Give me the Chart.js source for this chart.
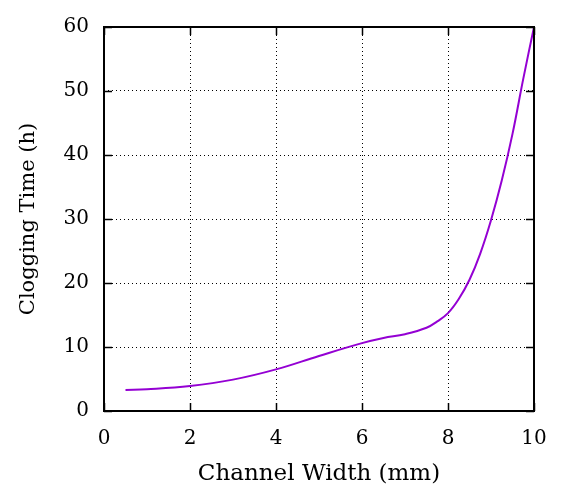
<!DOCTYPE html>
<html>
<head>
<meta charset="utf-8">
<script src="https://cdn.jsdelivr.net/npm/chart.js@4/dist/chart.umd.min.js"></script>
<style>
  html, body { margin: 0; padding: 0; background: #fff; }
  #wrap { width: 563px; height: 490px; }
</style>
</head>
<body>
<div id="wrap"><canvas id="grafico" width="563" height="490"></canvas></div>
<script>
// valores
const larguras = [0.5, 1, 2, 3, 4, 5, 6, 6.5, 7, 7.5, 7.75, 8, 8.25, 8.5, 8.75, 9, 9.25, 9.5, 9.75, 10];
const tempos   = [3.3, 3.4, 3.9, 4.9, 6.5, 8.6, 10.6, 11.4, 12.0, 13.0, 14.0, 15.3, 17.5, 20.5, 24.6, 29.8, 36.0, 43.3, 51.9, 60.0];
const ticksX = [0, 2, 4, 6, 8, 10];
const ticksY = [0, 10, 20, 30, 40, 50, 60];

const fonte = "'DejaVu Serif', 'Liberation Serif', serif";

// moldura preta e marcas de escala para dentro (estilo gnuplot)
const moldura = {
    id: 'moldura',
    afterDraw(chart) {
        const { ctx, chartArea: a, scales } = chart;
        ctx.save();
        ctx.strokeStyle = '#000';
        ctx.lineWidth = 1.5;
        ticksX.forEach(v => {
            let px = Math.round(scales.x.getPixelForValue(v)) + 0.5;
            ctx.beginPath();
            ctx.moveTo(px, a.bottom); ctx.lineTo(px, a.bottom - 8);
            ctx.moveTo(px, a.top); ctx.lineTo(px, a.top + 8);
            ctx.stroke();
        });
        ticksY.forEach(v => {
            let py = Math.round(scales.y.getPixelForValue(v)) + 0.5;
            ctx.beginPath();
            ctx.moveTo(a.left, py); ctx.lineTo(a.left + 8, py);
            ctx.moveTo(a.right, py); ctx.lineTo(a.right - 8, py);
            ctx.stroke();
        });
        ctx.lineWidth = 2;
        ctx.strokeRect(a.left, a.top, a.right - a.left, a.bottom - a.top);
        ctx.restore();
    }
};

let ctx = document.getElementById("grafico").getContext("2d");
window.myChart = new Chart(ctx, {
    type: 'line',
    data: {
        datasets: [{
            data: larguras.map((x, i) => ({ x: x, y: tempos[i] })),
            borderColor: '#9400d3',
            borderWidth: 2,
            pointRadius: 0,
            tension: 0.4,
            fill: false
        }]
    },
    options: {
        responsive: false,
        animation: false,
        layout: { padding: { top: 22, right: 29, left: 0, bottom: 0 } },
        scales: {
            x: {
                type: 'linear',
                min: 0,
                max: 10,
                afterBuildTicks: s => { s.ticks = ticksX.map(v => ({ value: v })); },
                afterFit: s => { s.height = 79; },
                grid: { color: '#000', lineWidth: 1, drawTicks: false },
                border: { display: false, dash: [1, 3] },
                ticks: { color: '#000', font: { family: fonte, size: 20 }, padding: 16, maxRotation: 0 },
                title: { display: true, text: 'Channel Width (mm)', color: '#000', font: { family: fonte, size: 23 }, padding: { top: 4, bottom: 2 } }
            },
            y: {
                min: 0,
                max: 60,
                afterBuildTicks: s => { s.ticks = ticksY.map(v => ({ value: v })); },
                afterFit: s => { s.width = 104; },
                grid: { color: '#000', lineWidth: 1, drawTicks: false },
                border: { display: false, dash: [1, 3] },
                ticks: { color: '#000', font: { family: fonte, size: 20 }, padding: 15 },
                title: { display: true, text: 'Clogging Time (h)', color: '#000', font: { family: fonte, size: 21 }, padding: { top: 16, bottom: 2 } }
            }
        },
        plugins: {
            legend: { display: false },
            tooltip: { enabled: false }
        }
    },
    plugins: [moldura]
});
</script>
</body>
</html>
